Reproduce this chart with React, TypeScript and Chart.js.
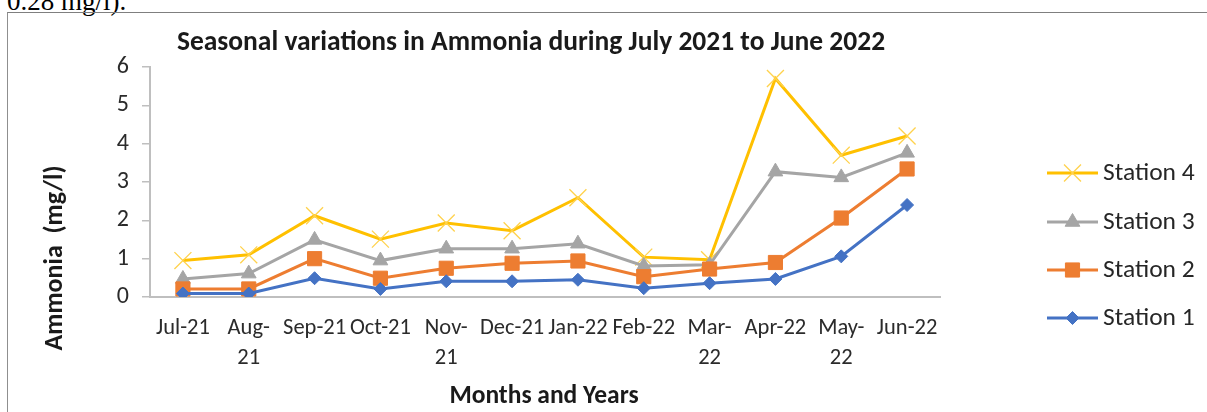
import React, { useEffect, useRef } from "react";
import { Chart, registerables } from "chart.js";
import { drawPoint } from "chart.js/helpers";

Chart.register(...registerables);

const monthLabels: (string | string[])[] = [
  "Jul-21", ["Aug-", "21"], "Sep-21", "Oct-21", ["Nov-", "21"], "Dec-21",
  "Jan-22", "Feb-22", ["Mar-", "22"], "Apr-22", ["May-", "22"], "Jun-22",
];
const station1 = [0.09, 0.09, 0.49, 0.21, 0.41, 0.41, 0.45, 0.23, 0.36, 0.47, 1.06, 2.40];
const station2 = [0.21, 0.21, 1.0, 0.49, 0.75, 0.88, 0.94, 0.53, 0.73, 0.9, 2.06, 3.34];
const station3 = [0.47, 0.61, 1.49, 0.95, 1.26, 1.26, 1.39, 0.81, 0.84, 3.27, 3.12, 3.76];
const station4 = [0.95, 1.1, 2.12, 1.51, 1.93, 1.73, 2.59, 1.04, 0.97, 5.7, 3.7, 4.2];
const yTicks = [0, 1, 2, 3, 4, 5, 6];

const chartTitle = "Seasonal variations in Ammonia during July 2021 to June 2022";
const xTitle = "Months and Years";
const yTitle = "Ammonia  (mg/l)";

const FONT = "Carlito, Calibri, Lato, sans-serif";

const textPlugin = {
  id: "customText",
  afterDraw(chart: any) {
    const ctx = chart.ctx as CanvasRenderingContext2D;
    const area = chart.chartArea;
    ctx.save();
    ctx.fillStyle = "#1a1a1a";
    ctx.textAlign = "center";
    ctx.textBaseline = "middle";
    // main title
    ctx.font = `bold 27.5px ${FONT}`;
    ctx.fillText(chartTitle, 523, 30);
    // x title
    ctx.font = `bold 25.5px ${FONT}`;
    ctx.fillText(xTitle, (area.left + area.right) / 2 - 1, 384);
    // y title
    ctx.save();
    ctx.font = `bold 26px ${FONT}`;
    ctx.translate(47, 245);
    ctx.rotate(-Math.PI / 2);
    ctx.fillText(yTitle, 0, 0);
    ctx.restore();

    // legend (reversed order)
    const rows = [160, 209, 257, 305];
    const ds = chart.data.datasets.slice().reverse();
    ds.forEach((d: any, i: number) => {
      const y = rows[i];
      ctx.strokeStyle = d.borderColor;
      ctx.lineWidth = 3;
      ctx.beginPath();
      ctx.moveTo(1039, y);
      ctx.lineTo(1090, y);
      ctx.stroke();
      ctx.fillStyle = d.pointBackgroundColor;
      ctx.strokeStyle = d.pointBorderColor;
      ctx.lineWidth = d.pointBorderWidth;
      drawPoint(ctx, { pointStyle: d.pointStyle, radius: d.pointRadius, rotation: 0, borderWidth: d.pointBorderWidth } as any, 1064.5, y);
      ctx.fillStyle = "#262626";
      ctx.textAlign = "left";
      ctx.font = `25.5px ${FONT}`;
      ctx.fillText(d.label, 1095, y + 1);
    });
    ctx.restore();
  },
};

export default function App() {
  const ref = useRef<HTMLCanvasElement>(null);
  useEffect(() => {
    if (!ref.current) return;
    const chart = new Chart(ref.current, {
      type: "line",
      data: {
        labels: monthLabels,
        datasets: [
          {
            label: "Station 1", data: station1, borderColor: "#4472C4", backgroundColor: "#4472C4",
            pointBackgroundColor: "#4472C4", pointBorderColor: "#4472C4", pointBorderWidth: 1,
            pointStyle: "rectRot", pointRadius: 6.5, borderWidth: 3, tension: 0,
          },
          {
            label: "Station 2", data: station2, borderColor: "#ED7D31", backgroundColor: "#ED7D31",
            pointBackgroundColor: "#ED7D31", pointBorderColor: "#ED7D31", pointBorderWidth: 1,
            pointStyle: "rect", pointRadius: 10, borderWidth: 3, tension: 0,
          },
          {
            label: "Station 3", data: station3, borderColor: "#A5A5A5", backgroundColor: "#A5A5A5",
            pointBackgroundColor: "#A5A5A5", pointBorderColor: "#A5A5A5", pointBorderWidth: 1,
            pointStyle: "triangle", pointRadius: 8.5, borderWidth: 3, tension: 0,
          },
          {
            label: "Station 4", data: station4, borderColor: "#FFC000", backgroundColor: "#FFC000",
            pointBackgroundColor: "#FFC000", pointBorderColor: "#FFD24D", pointBorderWidth: 1.3,
            pointStyle: "crossRot", pointRadius: 12, borderWidth: 3, tension: 0,
          },
        ],
      },
      options: {
        responsive: false,
        animation: false,
        events: [],
        layout: { padding: { left: 62, right: 267, top: 54, bottom: 20 } },
        plugins: { legend: { display: false }, title: { display: false }, tooltip: { enabled: false } },
        scales: {
          x: {
            type: "category",
            offset: true,
            grid: { display: false, drawTicks: false },
            border: { display: true, color: "#BFBFBF", width: 2 },
            ticks: {
              autoSkip: false, maxRotation: 0, minRotation: 0, padding: 16,
              color: "#2b2b2b", font: { family: FONT, size: 22.5, lineHeight: 1.35 },
            },
            afterFit: (s: any) => { s.height = 95; },
          },
          y: {
            min: 0, max: 6,
            afterBuildTicks: (s: any) => { s.ticks = yTicks.map((v) => ({ value: v })); },
            grid: { display: true, drawOnChartArea: false, drawTicks: true, tickLength: 8, color: "#BFBFBF", lineWidth: 1.5 },
            border: { display: true, color: "#BFBFBF", width: 2 },
            ticks: { padding: 13, color: "#2b2b2b", font: { family: FONT, size: 24 } },
            afterFit: (s: any) => { s.width = 80; },
          },
        },
      },
      plugins: [textPlugin],
    } as any);
    return () => chart.destroy();
  }, []);

  return (
    <div style={{ position: "fixed", left: 0, top: 0, width: 1207, height: 412, overflow: "hidden", background: "#fff" }}>
      <div style={{ position: "absolute", left: 7, top: -14, fontFamily: "'Liberation Serif', serif", fontSize: 27, lineHeight: "30px", whiteSpace: "nowrap", color: "#000" }}>
        0.28 mg/l).
      </div>
      <div style={{ position: "absolute", left: 7, top: 12, width: 1200, height: 400, boxSizing: "border-box", borderTop: "1px solid #7f7f7f", borderLeft: "1px solid #8f8f8f" }}>
        <canvas ref={ref} width={1199} height={399} style={{ display: "block" }} />
      </div>
    </div>
  );
}
